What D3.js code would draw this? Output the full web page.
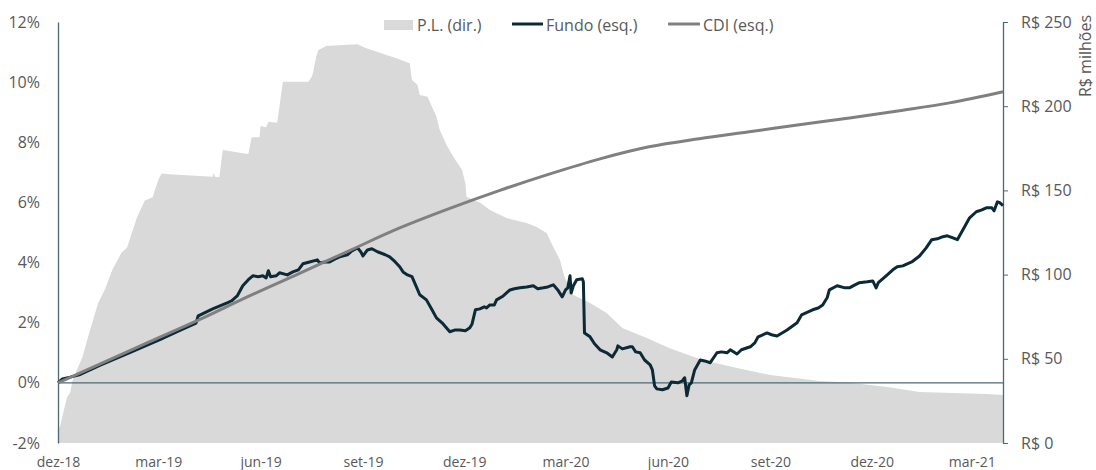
<!DOCTYPE html>
<html>
<head>
<meta charset="utf-8">
<script src="https://cdn.jsdelivr.net/npm/d3@7"></script>
<style>
  body { margin: 0; background: #fff; }
  text { font-family: "Open Sans", sans-serif; }
</style>
</head>
<body>
<script>
// eixo x: marcas trimestrais
const xTicks = ['2018-12-01', '2019-03-01', '2019-06-01', '2019-09-01', '2019-12-01',
  '2020-03-01', '2020-06-01', '2020-09-01', '2020-12-01', '2021-03-01'];
const xTickLabels = ['dez-18', 'mar-19', 'jun-19', 'set-19', 'dez-19',
  'mar-20', 'jun-20', 'set-20', 'dez-20', 'mar-21'];
const yLeftTicks = [-2, 0, 2, 4, 6, 8, 10, 12];
const yRightTicks = [0, 50, 100, 150, 200, 250];

// P.L. em R$ milhões (eixo dir.)
const pl = [
  ['2018-12-01', 8], ['2018-12-03', 10], ['2018-12-05', 16], ['2018-12-09', 27], ['2018-12-12', 30],
  ['2018-12-14', 37], ['2018-12-19', 45], ['2018-12-23', 51], ['2018-12-28', 63],
  ['2019-01-06', 83], ['2019-01-12', 91], ['2019-01-19', 103], ['2019-01-27', 113], ['2019-02-01', 116],
  ['2019-02-06', 126], ['2019-02-10', 134], ['2019-02-17', 144], ['2019-02-24', 146], ['2019-03-01', 156],
  ['2019-03-04', 160], ['2019-03-11', 159.6], ['2019-04-19', 158.1], ['2019-04-20', 160.5], ['2019-04-21', 158.1],
  ['2019-04-25', 157.8], ['2019-04-28', 174], ['2019-05-16', 172], ['2019-05-21', 171.6], ['2019-05-24', 181.5],
  ['2019-05-31', 181.5], ['2019-06-01', 188.2], ['2019-06-06', 187.5], ['2019-06-08', 190.8], ['2019-06-16', 190.2],
  ['2019-06-21', 214.5], ['2019-07-14', 214.5], ['2019-07-17', 217.5], ['2019-07-18', 219.5], ['2019-07-21', 229.4],
  ['2019-07-23', 233.4], ['2019-07-30', 235.7], ['2019-08-14', 236.3], ['2019-08-27', 236.8], ['2019-09-04', 234.4],
  ['2019-09-22', 230.4], ['2019-10-01', 228.4], ['2019-10-13', 225.5], ['2019-10-15', 215.6], ['2019-10-20', 212.6],
  ['2019-10-22', 206.7], ['2019-10-29', 205.6], ['2019-11-02', 199.7], ['2019-11-06', 193.8], ['2019-11-09', 185.9],
  ['2019-11-15', 177], ['2019-11-22', 169.1], ['2019-11-29', 162.1], ['2019-12-02', 154.2], ['2019-12-03', 146.3],
  ['2019-12-16', 142.3], ['2019-12-24', 138.4], ['2020-01-08', 133.6], ['2020-01-26', 130.6], ['2020-02-04', 128.3],
  ['2020-02-13', 124.7], ['2020-02-19', 116.4], ['2020-02-25', 108.7], ['2020-02-29', 98.6], ['2020-03-08', 87.9],
  ['2020-03-23', 83.1], ['2020-04-07', 77.2], ['2020-04-21', 68.3], ['2020-05-13', 62.4], ['2020-06-02', 56.4],
  ['2020-07-02', 49.3], ['2020-08-02', 44.5], ['2020-09-01', 40.4], ['2020-10-15', 36.8], ['2020-11-14', 35.6],
  ['2020-12-15', 33.3], ['2021-01-13', 30.3], ['2021-02-12', 29.7], ['2021-03-14', 29.1], ['2021-03-29', 28.5]
];

// rentabilidade acumulada do fundo, % (eixo esq.)
const fundo = [
  ['2018-12-01', 0.00], ['2018-12-05', 0.13], ['2018-12-12', 0.19], ['2018-12-21', 0.28],
  ['2019-01-08', 0.59], ['2019-02-04', 1.01], ['2019-03-03', 1.45], ['2019-03-21', 1.75],
  ['2019-04-04', 1.99], ['2019-04-06', 2.23], ['2019-04-19', 2.46], ['2019-05-02', 2.66],
  ['2019-05-06', 2.73], ['2019-05-11', 2.89], ['2019-05-16', 3.23], ['2019-05-21', 3.43],
  ['2019-05-25', 3.56], ['2019-05-30', 3.53], ['2019-06-03', 3.56], ['2019-06-06', 3.49],
  ['2019-06-08', 3.73], ['2019-06-10', 3.53], ['2019-06-15', 3.56], ['2019-06-18', 3.66],
  ['2019-06-25', 3.59], ['2019-06-30', 3.69], ['2019-07-05', 3.76], ['2019-07-09', 3.96],
  ['2019-07-15', 4.02], ['2019-07-22', 4.09], ['2019-07-24', 3.99], ['2019-07-29', 4.02],
  ['2019-08-02', 4.02], ['2019-08-07', 4.12], ['2019-08-11', 4.19], ['2019-08-18', 4.26],
  ['2019-08-22', 4.39], ['2019-08-27', 4.49], ['2019-08-30', 4.36], ['2019-09-01', 4.22],
  ['2019-09-05', 4.42], ['2019-09-09', 4.46], ['2019-09-14', 4.36], ['2019-09-21', 4.26],
  ['2019-09-25', 4.19], ['2019-09-30', 4.02], ['2019-10-04', 3.86], ['2019-10-07', 3.69],
  ['2019-10-11', 3.59], ['2019-10-15', 3.53], ['2019-10-19', 3.19], ['2019-10-22', 2.93],
  ['2019-10-28', 2.76], ['2019-11-02', 2.43], ['2019-11-06', 2.16], ['2019-11-12', 1.96],
  ['2019-11-18', 1.70], ['2019-11-23', 1.76], ['2019-11-27', 1.76], ['2019-12-02', 1.73],
  ['2019-12-06', 1.83], ['2019-12-08', 1.96], ['2019-12-11', 2.43], ['2019-12-15', 2.46],
  ['2019-12-19', 2.53], ['2019-12-21', 2.49], ['2019-12-24', 2.59], ['2019-12-28', 2.59],
  ['2019-12-30', 2.76], ['2020-01-05', 2.89], ['2020-01-11', 3.09], ['2020-01-15', 3.13],
  ['2020-01-20', 3.16], ['2020-01-26', 3.19], ['2020-02-01', 3.23], ['2020-02-05', 3.13],
  ['2020-02-10', 3.16], ['2020-02-14', 3.19], ['2020-02-19', 3.26], ['2020-02-23', 3.09],
  ['2020-02-27', 2.86], ['2020-03-01', 3.09], ['2020-03-03', 3.16], ['2020-03-05', 3.56],
  ['2020-03-06', 2.99], ['2020-03-08', 3.23], ['2020-03-11', 3.43], ['2020-03-16', 3.46],
  ['2020-03-17', 3.36], ['2020-03-18', 1.66], ['2020-03-23', 1.53], ['2020-03-27', 1.30],
  ['2020-04-01', 1.10], ['2020-04-07', 1.00], ['2020-04-12', 0.86], ['2020-04-16', 1.10],
  ['2020-04-17', 1.23], ['2020-04-21', 1.13], ['2020-04-28', 1.20], ['2020-04-30', 1.20],
  ['2020-05-03', 1.03], ['2020-05-07', 1.00], ['2020-05-11', 0.76], ['2020-05-16', 0.60],
  ['2020-05-18', 0.43], ['2020-05-20', -0.10], ['2020-05-22', -0.20], ['2020-05-27', -0.23],
  ['2020-06-01', -0.17], ['2020-06-04', 0.03], ['2020-06-10', 0.00], ['2020-06-14', 0.07],
  ['2020-06-16', 0.17], ['2020-06-18', -0.43], ['2020-06-20', -0.07], ['2020-06-22', 0.00],
  ['2020-06-25', 0.43], ['2020-06-30', 0.76], ['2020-07-04', 0.73], ['2020-07-09', 0.67],
  ['2020-07-15', 1.00], ['2020-07-19', 1.03], ['2020-07-24', 1.00], ['2020-07-27', 1.10],
  ['2020-08-02', 0.96], ['2020-08-06', 1.10], ['2020-08-14', 1.20], ['2020-08-18', 1.33],
  ['2020-08-21', 1.53], ['2020-08-29', 1.66], ['2020-09-02', 1.60], ['2020-09-07', 1.56],
  ['2020-09-16', 1.76], ['2020-09-25', 2.00], ['2020-09-29', 2.26], ['2020-10-05', 2.36],
  ['2020-10-09', 2.43], ['2020-10-14', 2.49], ['2020-10-18', 2.59], ['2020-10-22', 2.83],
  ['2020-10-24', 3.09], ['2020-10-31', 3.23], ['2020-11-07', 3.16], ['2020-11-11', 3.16],
  ['2020-11-16', 3.26], ['2020-11-20', 3.33], ['2020-11-27', 3.36], ['2020-12-02', 3.39],
  ['2020-12-05', 3.16], ['2020-12-07', 3.33], ['2020-12-15', 3.59], ['2020-12-20', 3.76],
  ['2020-12-24', 3.86], ['2020-12-29', 3.89], ['2021-01-02', 3.96], ['2021-01-06', 4.02],
  ['2021-01-13', 4.22], ['2021-01-19', 4.49], ['2021-01-24', 4.76], ['2021-01-29', 4.79],
  ['2021-02-03', 4.86], ['2021-02-07', 4.89], ['2021-02-12', 4.82], ['2021-02-16', 4.76],
  ['2021-02-18', 4.89], ['2021-02-21', 5.09], ['2021-02-24', 5.29], ['2021-02-27', 5.49],
  ['2021-03-05', 5.69], ['2021-03-10', 5.75], ['2021-03-14', 5.82], ['2021-03-19', 5.82],
  ['2021-03-21', 5.72], ['2021-03-24', 6.02], ['2021-03-26', 5.99], ['2021-03-29', 5.89]
];

// CDI acumulado, % (eixo esq.)
const cdi = [
  ['2018-12-01', 0.00], ['2019-01-08', 0.63], ['2019-02-21', 1.36], ['2019-04-07', 2.10],
  ['2019-05-22', 2.89], ['2019-07-06', 3.64], ['2019-08-20', 4.40], ['2019-10-04', 5.15],
  ['2019-11-18', 5.80], ['2020-01-02', 6.40], ['2020-02-16', 6.95], ['2020-04-01', 7.45],
  ['2020-05-15', 7.85], ['2020-06-29', 8.12], ['2020-08-13', 8.35], ['2020-09-27', 8.58],
  ['2020-11-11', 8.81], ['2020-12-26', 9.05], ['2021-02-09', 9.31], ['2021-03-29', 9.68]
];

const parse = d3.timeParse('%Y-%m-%d');
const W = 1096, H = 470;
const mLeft = 58, mRight = 1003, mTop = 22, mBottom = 443;
const axisColor = '#4f6873';
const labelColor = '#595959';

const svg = d3.select('body').append('svg')
  .attr('width', W)
  .attr('height', H);

const x = d3.scaleTime()
  .domain([parse('2018-12-01'), parse('2021-03-29')])
  .range([mLeft, mRight]);
const yL = d3.scaleLinear().domain([-2, 12]).range([mBottom, mTop]);
const yR = d3.scaleLinear().domain([0, 250]).range([mBottom, mTop]);

// area do P.L.
const area = d3.area()
  .x((d) => x(parse(d[0])))
  .y0(yR(0))
  .y1((d) => yR(d[1]));
svg.append('path')
  .datum(pl)
  .attr('d', area)
  .attr('fill', '#d9d9d9');

// linha do 0%
svg.append('line')
  .attr('x1', mLeft).attr('x2', mRight)
  .attr('y1', yL(0)).attr('y2', yL(0))
  .attr('stroke', axisColor)
  .attr('stroke-width', 1.3);

// eixo esquerdo
const gL = svg.append('g')
  .attr('transform', `translate(${mLeft},0)`)
  .call(d3.axisLeft(yL).tickValues(yLeftTicks).tickSize(0).tickPadding(18)
    .tickFormat((d) => d + '%'));
gL.select('.domain').attr('stroke', axisColor).attr('stroke-width', 1.3);
gL.selectAll('text').attr('fill', labelColor).style('font-size', '16px')
  .style('font-family', '"Open Sans", sans-serif');

// eixo direito
const gR = svg.append('g')
  .attr('transform', `translate(${mRight},0)`)
  .call(d3.axisRight(yR).tickValues(yRightTicks).tickSize(5).tickSizeOuter(0).tickPadding(13)
    .tickFormat((d) => 'R$ ' + d));
gR.select('.domain').attr('stroke', axisColor).attr('stroke-width', 1.3);
gR.selectAll('line').attr('stroke', axisColor);
gR.selectAll('text').attr('fill', labelColor).style('font-size', '16px')
  .style('font-family', '"Open Sans", sans-serif');

// eixo x
const gX = svg.append('g')
  .attr('transform', `translate(0,${mBottom})`)
  .call(d3.axisBottom(x).tickValues(xTicks.map(parse)).tickSize(0).tickPadding(14)
    .tickFormat((d, i) => xTickLabels[i]));
gX.select('.domain').remove();
gX.selectAll('text').attr('fill', labelColor).style('font-size', '14px')
  .style('font-family', '"Open Sans", sans-serif');

svg.append('text')
  .attr('transform', 'translate(1091,56) rotate(-90)')
  .attr('text-anchor', 'middle')
  .attr('fill', labelColor)
  .style('font-size', '16px')
  .text('R$ milhões');

// linhas
const line = (ys) => d3.line()
  .x((d) => x(parse(d[0])))
  .y((d) => ys(d[1]));

svg.append('path')
  .datum(fundo)
  .attr('d', line(yL))
  .attr('fill', 'none')
  .attr('stroke', '#0b2a35')
  .attr('stroke-width', 3)
  .attr('stroke-linejoin', 'round');

svg.append('path')
  .datum(cdi)
  .attr('d', line(yL).curve(d3.curveMonotoneX))
  .attr('fill', 'none')
  .attr('stroke', '#808080')
  .attr('stroke-width', 3);

// legenda
const leg = svg.append('g').style('font-size', '16px');
leg.append('rect').attr('x', 384).attr('y', 20).attr('width', 29).attr('height', 10).attr('fill', '#d9d9d9');
leg.append('text').attr('x', 417).attr('y', 25).attr('dy', '0.35em').attr('fill', labelColor).text('P.L. (dir.)');
leg.append('line').attr('x1', 512).attr('x2', 543).attr('y1', 24).attr('y2', 24)
  .attr('stroke', '#0b2a35').attr('stroke-width', 3);
leg.append('text').attr('x', 546).attr('y', 25).attr('dy', '0.35em').attr('fill', labelColor).text('Fundo (esq.)');
leg.append('line').attr('x1', 668).attr('x2', 700).attr('y1', 24).attr('y2', 24)
  .attr('stroke', '#808080').attr('stroke-width', 3);
leg.append('text').attr('x', 703).attr('y', 25).attr('dy', '0.35em').attr('fill', labelColor).text('CDI (esq.)');
</script>
</body>
</html>
